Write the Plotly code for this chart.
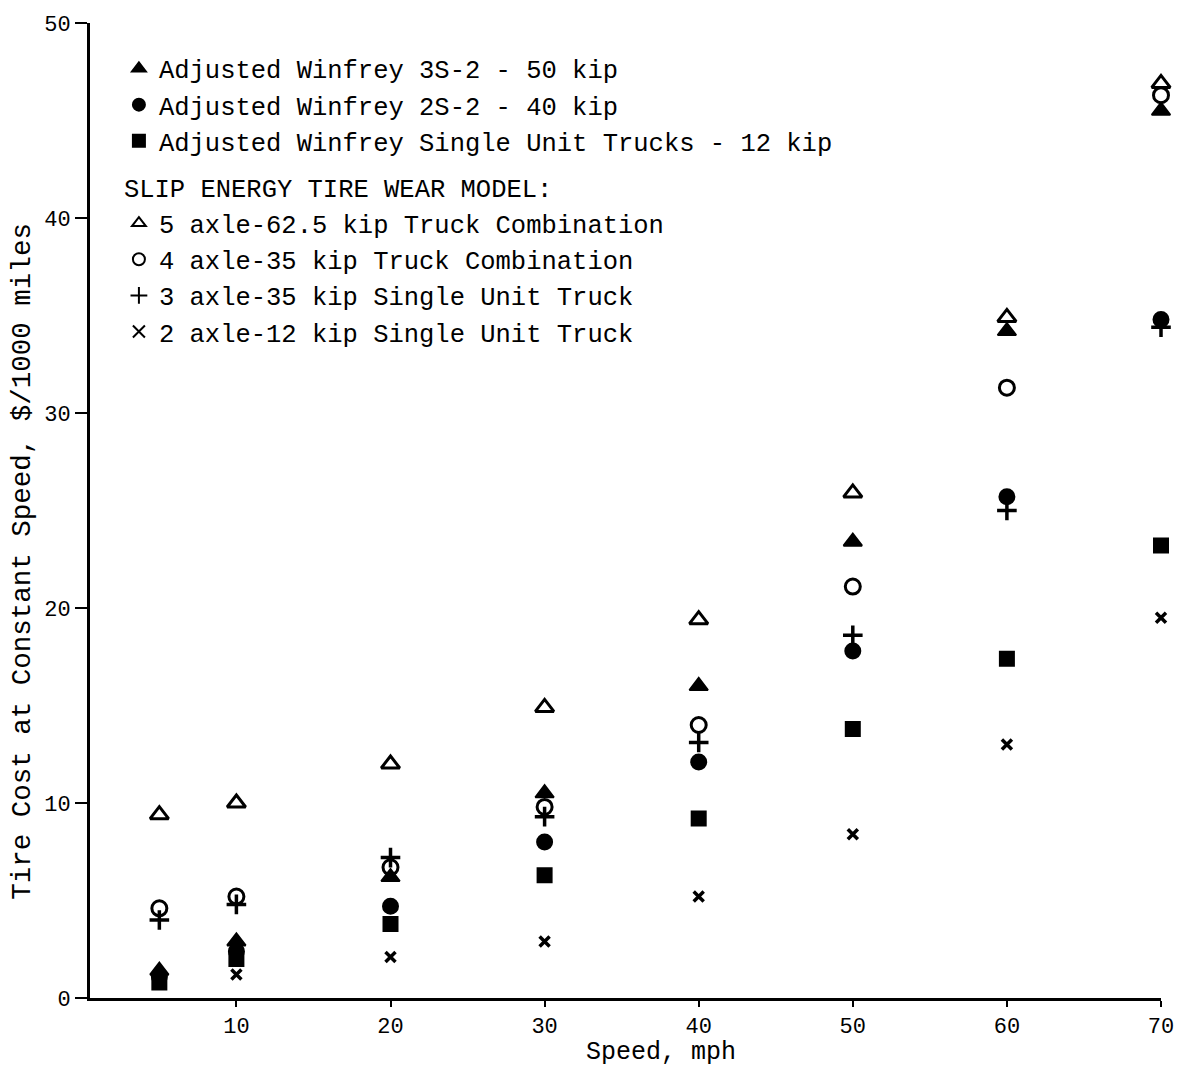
import plotly.graph_objects as go

speed = [5, 10, 20, 30, 40, 50, 60, 70]

# Adjusted Winfrey
winfrey_3s2_50 = [1.4, 2.9, 6.2, 10.5, 16.0, 23.4, 34.2, 45.5]
winfrey_2s2_40 = [1.1, 2.4, 4.7, 8.0, 12.1, 17.8, 25.7, 34.8]
winfrey_su_12 = [0.8, 2.0, 3.8, 6.3, 9.2, 13.8, 17.4, 23.2]

# Slip energy tire wear model
slip_5axle = [9.4, 10.0, 12.0, 14.9, 19.4, 25.9, 34.9, 46.9]
slip_4axle = [4.6, 5.2, 6.7, 9.8, 14.0, 21.1, 31.3, 46.3]
slip_3axle = [4.0, 4.8, 7.2, 9.3, 13.1, 18.6, 25.0, 34.4]
slip_2axle = [0.8, 1.2, 2.1, 2.9, 5.2, 8.4, 13.0, 19.5]

names = [
    "Adjusted Winfrey 3S-2 - 50 kip",
    "Adjusted Winfrey 2S-2 - 40 kip",
    "Adjusted Winfrey Single Unit Trucks - 12 kip",
    "5 axle-62.5 kip Truck Combination",
    "4 axle-35 kip Truck Combination",
    "3 axle-35 kip Single Unit Truck",
    "2 axle-12 kip Single Unit Truck",
]

FONT = "Liberation Mono"
fig = go.Figure()

series = [
    (winfrey_3s2_50, names[0], "triangle-up", 16, "g1", 2),
    (winfrey_2s2_40, names[1], "circle", 15, "g1", 2),
    (winfrey_su_12, names[2], "square", 14, "g1", 2),
    (slip_5axle, names[3], "triangle-up-open", 16, "g2", 3),
    (slip_4axle, names[4], "circle-open", 15, "g2", 3),
    (slip_3axle, names[5], "cross-thin-open", 14, "g2", 3.5),
    (slip_2axle, names[6], "x-thin-open", 10, "g2", 3.5),
]

for vals, nm, sym, sz, grp, lw in series:
    kw = {}
    if grp == "g2":
        kw["legendgrouptitle"] = dict(text="SLIP ENERGY TIRE WEAR MODEL:",
                                      font=dict(family=FONT, size=25.5, color="black"))
    fig.add_trace(go.Scatter(
        x=speed, y=vals, mode="markers", name=nm, legendgroup=grp,
        cliponaxis=False,
        marker=dict(symbol=sym, size=sz, color="black",
                    line=dict(color="black", width=lw)),
        **kw,
    ))

fig.update_layout(
    width=1186, height=1072,
    margin=dict(l=90, r=22, t=23, b=74),
    paper_bgcolor="white", plot_bgcolor="white",
    font=dict(family=FONT, size=22, color="black"),
    showlegend=True,
    legend=dict(x=0.027, y=0.977, xanchor="left", yanchor="top",
                bgcolor="rgba(0,0,0,0)", font=dict(family=FONT, size=25.5, color="black"),
                tracegroupgap=10, itemsizing="constant"),
    xaxis=dict(range=[0.5, 70], tickvals=[10, 20, 30, 40, 50, 60, 70],
               showgrid=False, zeroline=False, showline=True, linecolor="black",
               linewidth=3, ticks="outside", ticklen=6, tickwidth=2, tickcolor="black",
               tickfont=dict(family=FONT, size=22)),
    yaxis=dict(range=[0, 50], tickvals=[0, 10, 20, 30, 40, 50],
               showgrid=False, zeroline=False, showline=True, linecolor="black",
               linewidth=3, ticks="outside", ticklen=12, tickwidth=2, tickcolor="black",
               tickfont=dict(family=FONT, size=22)),
    annotations=[
        dict(text="Speed, mph", xref="paper", yref="paper", x=0.533, y=-0.056,
             xanchor="center", yanchor="middle", showarrow=False,
             font=dict(family=FONT, size=25, color="black")),
        dict(text="Tire Cost at Constant Speed, $/1000 miles", xref="paper", yref="paper",
             x=-0.063, y=0.448, xanchor="center", yanchor="middle", textangle=-90,
             showarrow=False, font=dict(family=FONT, size=27.5, color="black")),
    ],
)

fig.write_html("out.html", config={"displayModeBar": False},
               post_script="document.body.style.margin='0';document.body.style.padding='0';")
